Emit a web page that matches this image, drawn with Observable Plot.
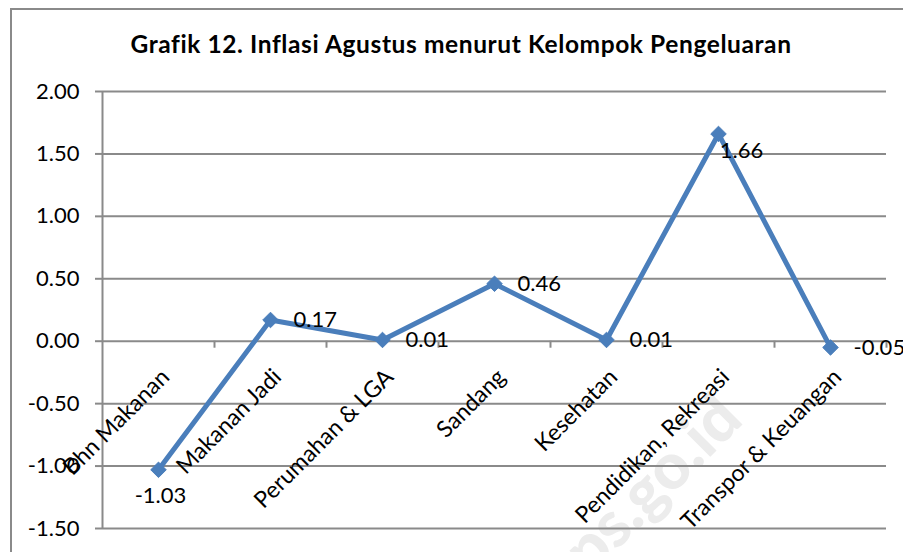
<!DOCTYPE html>
<html><head><meta charset="utf-8">
<script src="https://cdn.jsdelivr.net/npm/d3@7"></script>
<script src="https://cdn.jsdelivr.net/npm/@observablehq/plot@0.6"></script>
<style>
html,body{margin:0;padding:0;background:#fff;overflow:hidden;width:903px;height:552px;}
#wrap{position:relative;width:903px;height:552px;overflow:hidden;font-family:Lato,"Open Sans",sans-serif;}
#frame{position:absolute;left:10px;top:8px;width:1000px;height:700px;border:2px solid #8a8a8a;box-sizing:border-box;}
#wm{position:absolute;left:0;top:0;}
#title{position:absolute;left:0;width:922px;top:29px;text-align:center;font-weight:bold;font-size:24.5px;letter-spacing:0.6px;color:#000;z-index:3;}
#chart{position:absolute;left:0;top:0;z-index:2;}
</style></head>
<body>
<div id="wrap">
  <div id="frame"></div>
  <svg id="wm" width="903" height="552"><text x="745" y="422" transform="rotate(-45 745 422)" text-anchor="end" font-family="Lato, sans-serif" font-weight="900" font-size="64" fill="#ececec">bps.go.id</text></svg>
  <div id="title">Grafik 12. Inflasi Agustus menurut Kelompok Pengeluaran</div>
  <div id="chart"></div>
</div>
<script>
const categories = ["Bhn Makanan","Makanan Jadi","Perumahan & LGA","Sandang","Kesehatan","Pendidikan, Rekreasi","Transpor & Keuangan"];
const values = [-1.03, 0.17, 0.01, 0.46, 0.01, 1.66, -0.05];
const labelPlacement = ["below","right","right","right","right","belowRight","right"];
const yTicks = [-1.5,-1,-0.5,0,0.5,1,1.5,2];

const data = categories.map((c,i)=>({i, c, v: values[i], pos: labelPlacement[i]}));
const bounds = d3.range(1, categories.length+1).map(k=>k-0.5);
const fmt = d => d.toFixed(2);
const gray = "#8a8a8a", blue = "#4a7ebb";

const chart = Plot.plot({
  width: 903, height: 552,
  marginLeft: 102, marginRight: 17, marginTop: 91, marginBottom: 24,
  style: {background: "transparent", fontFamily: "Lato, 'Open Sans', sans-serif", fontSize: "22px", color: "#000", overflow: "visible"},
  x: {type: "linear", domain: [-0.5, categories.length - 0.5], axis: null},
  y: {domain: [-1.5, 2], axis: null},
  marks: [
    Plot.ruleY(yTicks, {stroke: gray, strokeWidth: 2}),
    Plot.axisY({ticks: yTicks, tickFormat: fmt, tickSize: 7, tickPadding: 16, stroke: gray, strokeWidth: 2, fill: "#000", fontSize: 22, label: null}),
    Plot.ruleX([-0.5], {stroke: gray, strokeWidth: 2}),
    Plot.ruleX(bounds, {x: d => d, y1: 0, y2: -0.056, stroke: gray, strokeWidth: 2}),
    Plot.text(data, {x: "i", y: () => 0, text: "c", rotate: -45, textAnchor: "end", dx: 7, dy: 32, fontSize: 23, fill: "#000"}),
    Plot.line(data, {x: "i", y: "v", stroke: blue, strokeWidth: 5}),
    Plot.dot(data, {x: "i", y: "v", symbol: "diamond2", r: 7, fill: blue, stroke: blue, strokeWidth: 1}),
    Plot.text(data.filter(d => d.pos === "right"), {x: "i", y: "v", text: d => fmt(d.v), textAnchor: "start", dx: 23, fontSize: 22, fill: "#000"}),
    Plot.text(data.filter(d => d.pos === "below"), {x: "i", y: "v", text: d => fmt(d.v), textAnchor: "middle", dx: 2, dy: 26, fontSize: 22, fill: "#000"}),
    Plot.text(data.filter(d => d.pos === "belowRight"), {x: "i", y: "v", text: d => fmt(d.v), textAnchor: "middle", dx: 23, dy: 17, fontSize: 22, fill: "#000"})
  ]
});
document.getElementById("chart").appendChild(chart);
</script>
</body></html>
